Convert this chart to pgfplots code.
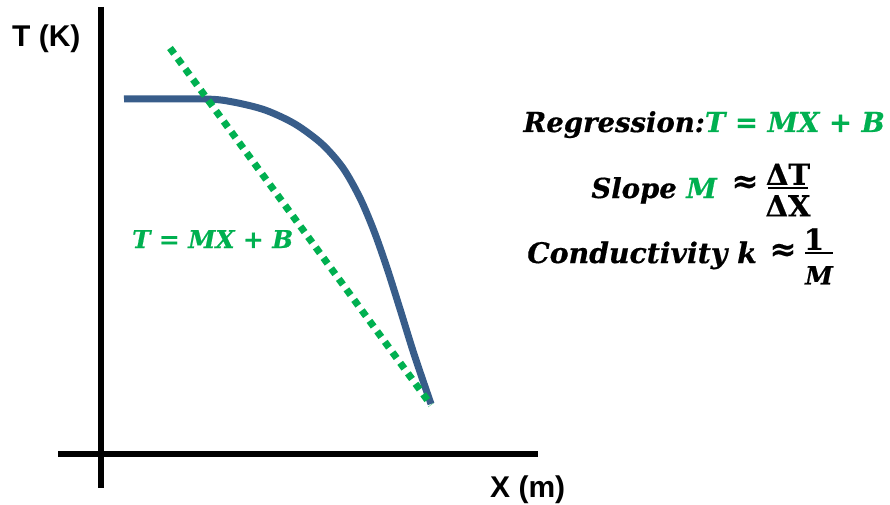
\documentclass[border=0pt]{standalone}
\usepackage{pgfplots}
\pgfplotsset{compat=1.18}
\usepackage{fontspec}
\setmainfont{Liberation Sans}
\newfontfamily\cam[BoldItalicFeatures={FakeBold=0.6},BoldFeatures={FakeBold=0.6}]{DejaVu Serif}
\definecolor{cgreen}{HTML}{00B050}
\definecolor{cblue}{HTML}{385D8A}
\newcommand\bi{\cam\bfseries\itshape}
\newcommand\bu{\cam\bfseries\upshape}
\begin{document}
\begin{tikzpicture}
\begin{axis}[width=890pt,height=505pt,scale only axis,xmin=0,xmax=890,ymin=0,ymax=505,y dir=reverse,hide axis,clip=false]
\path (axis cs:0,0) rectangle (axis cs:890,505);
\addplot[black,line width=6pt] coordinates {(101,7) (101,488)};
\addplot[black,line width=6pt] coordinates {(58,454) (538,454)};
\addplot[cblue,line width=7pt,smooth] coordinates {(124,99) (205,99) (233,102) (265,110) (295,124) (322,144) (343,168) (360,198) (374,231) (387,268) (400,309) (414,354) (431,404)};
\addplot[cgreen,line width=7pt,dash pattern=on 7pt off 6pt] coordinates {(170,48) (431,405)};
% axis titles
\node[anchor=base west,inner sep=0pt,font=\bfseries\fontsize{30}{30}\selectfont] at (axis cs:12,47) {T (K)};
\node[anchor=base west,inner sep=0pt,font=\bfseries\fontsize{30}{30}\selectfont] at (axis cs:490,497) {X (m)};
% in-plot label
\node[anchor=base west,inner sep=0pt,text=cgreen,font=\bi\fontsize{24.6}{24.6}\selectfont] at (axis cs:132,248) {T {\bu=} MX {\bu+} B};
% right side annotations
\node[anchor=base east,inner sep=0pt,font=\bi\fontsize{27.5}{27.5}\selectfont] at (axis cs:885,132) {Regression:\textcolor{cgreen}{T {\bu=} MX {\bu+} B}};
\node[anchor=base east,inner sep=0pt,font=\bi\fontsize{27.5}{27.5}\selectfont] at (axis cs:717,198) {Slope \textcolor{cgreen}{M}};
\node[inner sep=0pt,font=\bu\fontsize{32}{32}\selectfont] at (axis cs:745,184) {≈};
\node[anchor=south,inner sep=0pt,font=\bu\fontsize{29}{29}\selectfont] at (axis cs:788,185) {ΔT};
\node[inner sep=0pt] at (axis cs:788,188) {\rule{40pt}{2.2pt}};
\node[anchor=north,inner sep=0pt,font=\bu\fontsize{29}{29}\selectfont] at (axis cs:788,195) {ΔX};
\node[anchor=base west,inner sep=0pt,font=\bi\fontsize{28.3}{28.3}\selectfont] at (axis cs:527,263) {Conductivity k};
\node[inner sep=0pt,font=\bu\fontsize{32}{32}\selectfont] at (axis cs:783,252) {≈};
\node[anchor=south,inner sep=0pt,font=\bu\fontsize{29}{29}\selectfont] at (axis cs:814,250) {1};
\node[inner sep=0pt] at (axis cs:819,253) {\rule{28pt}{2.2pt}};
\node[anchor=north,inner sep=0pt,font=\bi\fontsize{25}{25}\selectfont] at (axis cs:819,266) {M};
\end{axis}
\end{tikzpicture}
\end{document}
